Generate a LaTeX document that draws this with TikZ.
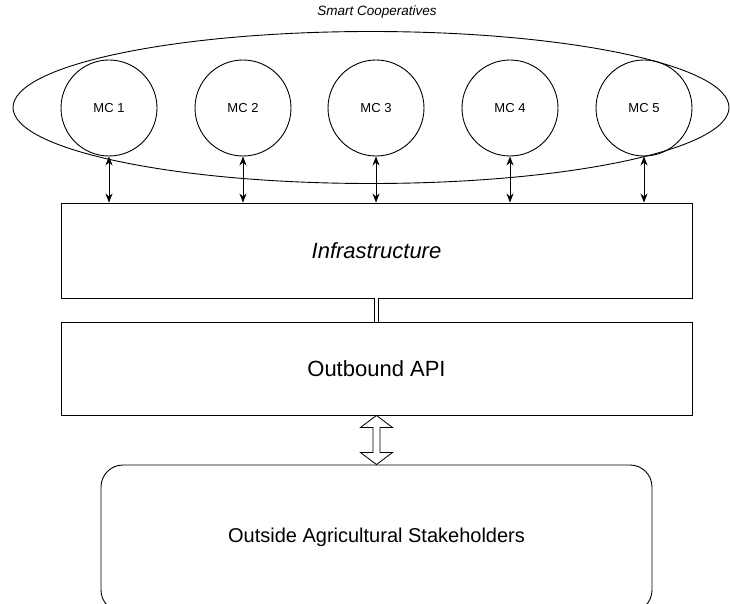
\documentclass[tikz,border=0pt]{standalone}
\usepackage{fontspec}
\setmainfont{Liberation Sans}
\usetikzlibrary{arrows.meta,shapes.geometric,calc}
\begin{document}
\begin{tikzpicture}[x=1pt,y=-1pt,line width=0.9pt,
  mc/.style={draw,circle,minimum size=96pt,inner sep=0pt,font=\fontsize{13}{15}\selectfont},
  box/.style={draw,rectangle,inner sep=0pt,minimum width=631pt},
  biarrow/.style={{Stealth[length=9pt,width=7pt]}-{Stealth[length=9pt,width=7pt]}},
  link/.style={draw,double,double distance=3pt,line width=0.8pt},
  hollow/.style={draw,line width=0.8pt,line join=miter}
]
\useasboundingbox (0,0) rectangle (730,604);
\clip (0,0) rectangle (730,604);
\node[draw,ellipse,minimum width=716pt,minimum height=152pt,inner sep=0pt] (coop) at (371,107.5) {};
\node[font=\itshape\fontsize{13.5}{15}\selectfont] (title) at (377,12) {Smart Cooperatives};
\node[mc] (mc1) at (109,108) {MC 1};
\node[mc] (mc2) at (243,108) {MC 2};
\node[mc] (mc3) at (376,108) {MC 3};
\node[mc] (mc4) at (510,108) {MC 4};
\node[mc] (mc5) at (644,108) {MC 5};
\node[box,minimum height=95pt,font=\itshape\fontsize{22}{24}\selectfont] (infra) at (376.5,250.5) {Infrastructure};
\node[box,minimum height=93pt,font=\fontsize{22}{24}\selectfont] (api) at (376.5,368.5) {Outbound API};
\node[draw,rectangle,rounded corners=22pt,minimum width=551pt,minimum height=147pt,inner sep=0pt] (out) at (376.5,538.5) {};
\node[font=\fontsize{20}{22}\selectfont] (outtext) at (376.5,537) {Outside Agricultural Stakeholders};
\foreach \i in {1,...,5}{
  \draw[biarrow] (mc\i.south) -- (mc\i.south |- infra.north);
}
\draw[link] (infra.south) -- (api.north);
\draw[hollow] (api.south) -- ++(16,12) -- ++(-12.5,0) -- ($(out.north)+(3.5,-12)$) -- ++(12.5,0)
  -- (out.north) -- ++(-16,-12) -- ++(12.5,0) -- ($(api.south)+(-3.5,12)$) -- ++(-12.5,0) -- cycle;
\end{tikzpicture}
\end{document}
